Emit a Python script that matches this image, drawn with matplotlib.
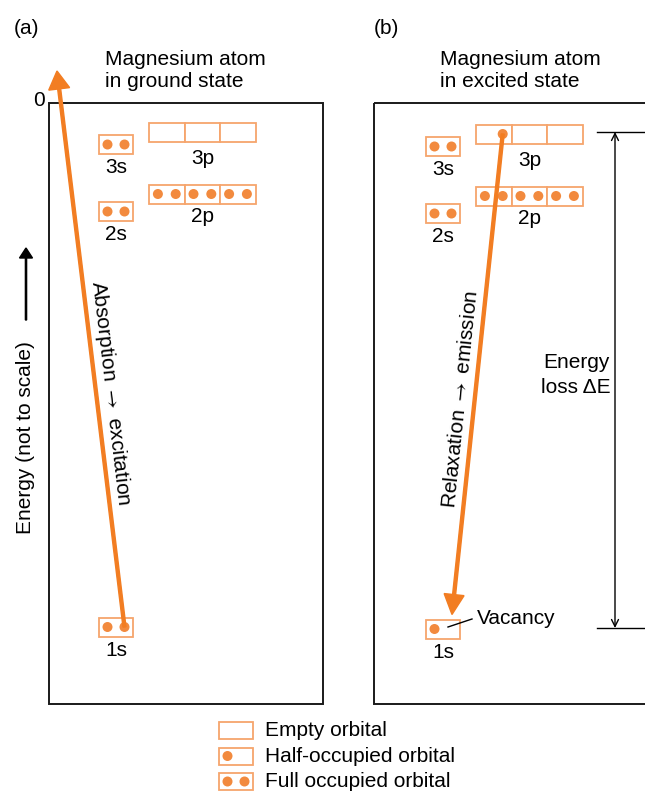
import matplotlib
matplotlib.use('Agg')
import matplotlib.pyplot as plt
from matplotlib.patches import Rectangle, Circle

plt.rcParams['font.family'] = ['Liberation Sans', 'DejaVu Sans']
plt.rcParams['mathtext.fontset'] = 'stixsans'

# orbital data (energy positions are not to scale)
orbitals = ['1s', '2s', '2p', '3s', '3p']
n_cells = [1, 1, 3, 1, 3]
level_y = [627, 211.5, 194, 144.5, 132]
ground_electrons = [2, 2, 6, 2, 0]
excited_electrons = [1, 2, 6, 2, 1]

legend_labels = ['Empty orbital', 'Half-occupied orbital', 'Full occupied orbital']
legend_electrons = [0, 1, 2]

BOX_EDGE = '#F6A56C'
DOT = '#F28A3E'
ARROW = '#F27D22'
FS = 15

fig = plt.figure(figsize=(6.45, 7.92), dpi=100)
ax = fig.add_axes([0, 0, 1, 1])
ax.set_xlim(0, 645)
ax.set_ylim(792, 0)
ax.axis('off')


def cell_width(name):
    return 34 if name.endswith('s') else 35.6


def orbital_x(name, dx):
    return (99 if name.endswith('s') else 149) + dx


def draw_orbital(x, yc, ncell, electrons, cw, h=19, half_slot=0):
    dots = []
    left = electrons
    for i in range(ncell):
        x0 = x + i * cw
        ax.add_patch(Rectangle((x0, yc - h / 2), cw, h, fc='white',
                               ec=BOX_EDGE, lw=1.3, zorder=2))
        k = min(2, left)
        left -= k
        if k == 2:
            slots = [0, 1]
        elif k == 1:
            slots = [half_slot]
        else:
            slots = []
        for s in slots:
            cx = x0 + cw * (0.25 + 0.5 * s)
            ax.add_patch(Circle((cx, yc), 5, fc=DOT, ec='none', zorder=3))
            dots.append((cx, yc))
    return dots


def draw_panel(dx, dy, electrons, half_slots):
    dots = {}
    for name, n, y, e in zip(orbitals, n_cells, level_y, electrons):
        x = orbital_x(name, dx)
        cw = cell_width(name)
        dots[name] = draw_orbital(x, y + dy, n, e, cw, half_slot=half_slots.get(name, 0))
        off = 23 if name == '3p' else 19
        ax.text(x + n * cw / 2, y + dy + 9.5 + off, name, ha='center',
                va='baseline', fontsize=FS)
    return dots


# panel frames
ax.add_patch(Rectangle((48.5, 103), 274.5, 601, fill=False, ec='#1a1a1a', lw=1.4))
ax.add_patch(Rectangle((374, 103), 290, 601, fill=False, ec='#1a1a1a', lw=1.4))

ax.text(14, 28, '(a)', fontsize=FS, va='center')
ax.text(374, 28, '(b)', fontsize=FS, va='center')
ax.text(105, 65, 'Magnesium atom', fontsize=FS, va='baseline')
ax.text(105, 87, 'in ground state', fontsize=FS, va='baseline')
ax.text(440, 65, 'Magnesium atom', fontsize=FS, va='baseline')
ax.text(440, 87, 'in excited state', fontsize=FS, va='baseline')
ax.text(39, 101, '0', fontsize=FS, ha='center', va='center')

# energy axis
ax.text(26, 438, 'Energy (not to scale)', fontsize=FS, rotation=90,
        ha='center', va='center')
ax.arrow(26, 320, 0, -72, width=1.2, head_width=13, head_length=10,
         length_includes_head=True, fc='black', ec='black')

# panel (a): ground state
dots_a = draw_panel(0, 0, ground_electrons, {})
sx, sy = dots_a['1s'][1]
ax.arrow(sx, sy, 57 - sx, 71 - sy, width=3, head_width=21, head_length=18,
         length_includes_head=True, fc=ARROW, ec=ARROW, zorder=4)
ax.text(111, 393, r'Absorption $\rightarrow$ excitation', fontsize=FS,
        rotation=-83.3, rotation_mode='anchor', ha='center', va='center')

# panel (b): excited state
dots_b = draw_panel(327, 2, excited_electrons, {'3p': 1, '1s': 0})
ex, ey = dots_b['3p'][0]
tip_y = level_y[0] + 2 - 9.5 - 5
ax.arrow(ex, ey, 452 - ex, tip_y - ey, width=3, head_width=20, head_length=20,
         length_includes_head=True, fc=ARROW, ec=ARROW, zorder=4)
ax.text(461, 399, r'Relaxation $\rightarrow$ emission', fontsize=FS,
        rotation=84.1, rotation_mode='anchor', ha='center', va='center')

# vacancy pointer
ax.plot([448, 472], [627, 619], color='black', lw=1)
ax.text(477, 619, 'Vacancy', fontsize=FS, va='center')

# energy loss bracket
top = level_y[4]
bot = level_y[0] + 1
ax.plot([597, 645], [top, top], color='black', lw=1)
ax.plot([597, 645], [bot, bot], color='black', lw=1)
ax.annotate('', xy=(615, top), xytext=(615, bot),
            arrowprops=dict(arrowstyle='<->,head_length=0.5,head_width=0.25',
                            color='black', lw=1, shrinkA=0, shrinkB=0))
ax.text(576, 368, 'Energy', fontsize=FS, ha='center', va='baseline')
ax.text(576, 393, 'loss \u0394E', fontsize=FS, ha='center', va='baseline')

# legend
for i, (lab, e) in enumerate(zip(legend_labels, legend_electrons)):
    yc = 730.5 + i * 25.5
    draw_orbital(219, yc, 1, e, 34, h=17)
    ax.text(265, yc, lab, fontsize=FS, va='center')

fig.savefig('out.png', dpi=100)
